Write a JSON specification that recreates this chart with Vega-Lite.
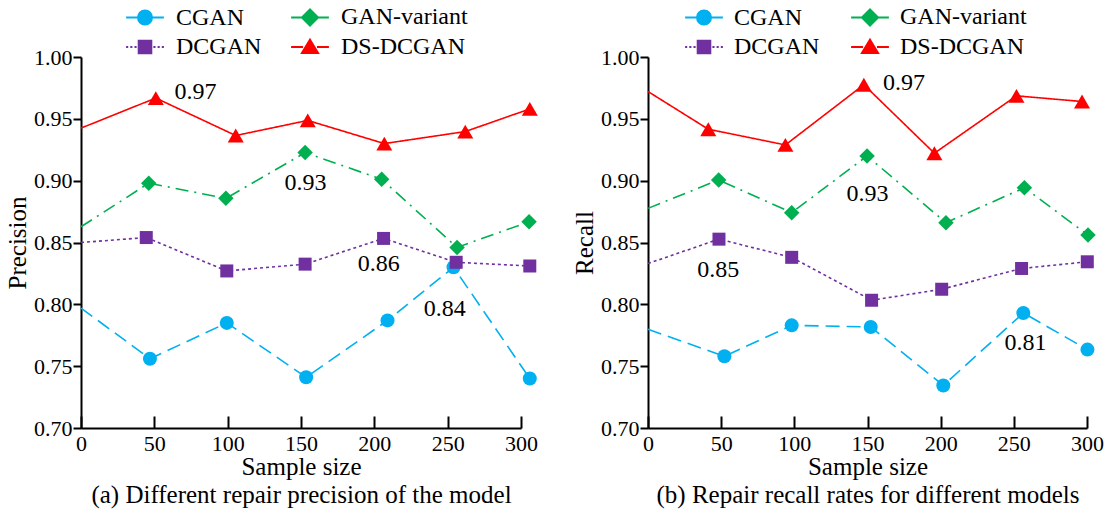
{
  "$schema": "https://vega.github.io/schema/vega-lite/v6.json",
  "padding": {"left": 5, "top": 5, "right": 5, "bottom": 5},
  "background": "white",
  "datasets": {
    "series": [
      {"panel": "a", "model": "CGAN", "x": 0, "y": 0.797},
      {"panel": "a", "model": "CGAN", "x": 47, "y": 0.756},
      {"panel": "a", "model": "CGAN", "x": 99.4, "y": 0.785},
      {"panel": "a", "model": "CGAN", "x": 153.5, "y": 0.741},
      {"panel": "a", "model": "CGAN", "x": 209, "y": 0.787},
      {"panel": "a", "model": "CGAN", "x": 254, "y": 0.830},
      {"panel": "a", "model": "CGAN", "x": 306, "y": 0.740},
      {"panel": "a", "model": "DCGAN", "x": 0, "y": 0.850},
      {"panel": "a", "model": "DCGAN", "x": 44.5, "y": 0.854},
      {"panel": "a", "model": "DCGAN", "x": 99.4, "y": 0.827},
      {"panel": "a", "model": "DCGAN", "x": 152.8, "y": 0.8325},
      {"panel": "a", "model": "DCGAN", "x": 206.3, "y": 0.8533},
      {"panel": "a", "model": "DCGAN", "x": 255.8, "y": 0.834},
      {"panel": "a", "model": "DCGAN", "x": 306, "y": 0.831},
      {"panel": "a", "model": "GAN-variant", "x": 0, "y": 0.8627},
      {"panel": "a", "model": "GAN-variant", "x": 46.2, "y": 0.898},
      {"panel": "a", "model": "GAN-variant", "x": 98.8, "y": 0.8857},
      {"panel": "a", "model": "GAN-variant", "x": 152.8, "y": 0.9227},
      {"panel": "a", "model": "GAN-variant", "x": 205, "y": 0.9011},
      {"panel": "a", "model": "GAN-variant", "x": 256.4, "y": 0.846},
      {"panel": "a", "model": "GAN-variant", "x": 305.5, "y": 0.8668},
      {"panel": "a", "model": "DS-DCGAN", "x": 0, "y": 0.9425},
      {"panel": "a", "model": "DS-DCGAN", "x": 51, "y": 0.9668},
      {"panel": "a", "model": "DS-DCGAN", "x": 105.5, "y": 0.9365},
      {"panel": "a", "model": "DS-DCGAN", "x": 154.6, "y": 0.9487},
      {"panel": "a", "model": "DS-DCGAN", "x": 206.8, "y": 0.930},
      {"panel": "a", "model": "DS-DCGAN", "x": 262, "y": 0.9397},
      {"panel": "a", "model": "DS-DCGAN", "x": 306, "y": 0.958},
      {"panel": "b", "model": "CGAN", "x": 0, "y": 0.7798},
      {"panel": "b", "model": "CGAN", "x": 52.2, "y": 0.758},
      {"panel": "b", "model": "CGAN", "x": 98.2, "y": 0.783},
      {"panel": "b", "model": "CGAN", "x": 152.2, "y": 0.7817},
      {"panel": "b", "model": "CGAN", "x": 201.8, "y": 0.7344},
      {"panel": "b", "model": "CGAN", "x": 256.5, "y": 0.793},
      {"panel": "b", "model": "CGAN", "x": 300.3, "y": 0.7634},
      {"panel": "b", "model": "DCGAN", "x": 0, "y": 0.833},
      {"panel": "b", "model": "DCGAN", "x": 48.5, "y": 0.8527},
      {"panel": "b", "model": "DCGAN", "x": 98.2, "y": 0.838},
      {"panel": "b", "model": "DCGAN", "x": 152.8, "y": 0.8033},
      {"panel": "b", "model": "DCGAN", "x": 200.7, "y": 0.8122},
      {"panel": "b", "model": "DCGAN", "x": 255.3, "y": 0.829},
      {"panel": "b", "model": "DCGAN", "x": 300.2, "y": 0.8344},
      {"panel": "b", "model": "GAN-variant", "x": 0, "y": 0.8776},
      {"panel": "b", "model": "GAN-variant", "x": 48.3, "y": 0.9006},
      {"panel": "b", "model": "GAN-variant", "x": 98.2, "y": 0.8741},
      {"panel": "b", "model": "GAN-variant", "x": 149.7, "y": 0.920},
      {"panel": "b", "model": "GAN-variant", "x": 203.6, "y": 0.866},
      {"panel": "b", "model": "GAN-variant", "x": 257.2, "y": 0.8943},
      {"panel": "b", "model": "GAN-variant", "x": 300.7, "y": 0.856},
      {"panel": "b", "model": "DS-DCGAN", "x": 0, "y": 0.9721},
      {"panel": "b", "model": "DS-DCGAN", "x": 41.2, "y": 0.9416},
      {"panel": "b", "model": "DS-DCGAN", "x": 93.9, "y": 0.9289},
      {"panel": "b", "model": "DS-DCGAN", "x": 147.5, "y": 0.9776},
      {"panel": "b", "model": "DS-DCGAN", "x": 195.7, "y": 0.9222},
      {"panel": "b", "model": "DS-DCGAN", "x": 251.8, "y": 0.9686},
      {"panel": "b", "model": "DS-DCGAN", "x": 296.6, "y": 0.964}
    ],
    "labels": [
      {"panel": "a", "x": 78, "y": 0.972, "text": "0.97"},
      {"panel": "a", "x": 153, "y": 0.898, "text": "0.93"},
      {"panel": "a", "x": 203, "y": 0.833, "text": "0.86"},
      {"panel": "a", "x": 248, "y": 0.796, "text": "0.84"},
      {"panel": "b", "x": 175, "y": 0.979, "text": "0.97"},
      {"panel": "b", "x": 150, "y": 0.889, "text": "0.93"},
      {"panel": "b", "x": 48, "y": 0.828, "text": "0.85"},
      {"panel": "b", "x": 258, "y": 0.769, "text": "0.81"}
    ]
  },
  "hconcat": [
    {
      "width": 440,
      "height": 371,
      "layer": [
        {
          "data": {"name": "series"},
          "transform": [{"filter": "datum.panel === 'a'"}],
          "mark": {"type": "line", "strokeWidth": 1.6},
          "encoding": {
            "x": {"field": "x", "type": "quantitative", "scale": {"domain": [0, 300], "nice": false},
              "axis": {"values": [0, 50, 100, 150, 200, 250, 300], "title": ["Sample size", "(a) Different repair precision of the model"]}},
            "y": {"field": "y", "type": "quantitative", "scale": {"domain": [0.7, 1.0], "nice": false, "zero": false},
              "axis": {"values": [0.7, 0.75, 0.8, 0.85, 0.9, 0.95, 1.0], "format": ".2f", "title": "Precision"}},
            "color": {"field": "model", "type": "nominal",
              "scale": {"domain": ["CGAN", "GAN-variant", "DCGAN", "DS-DCGAN"], "range": ["#00b0f0", "#00b050", "#7030a0", "#ff0000"]},
              "legend": null},
            "strokeDash": {"field": "model", "type": "nominal",
              "scale": {"domain": ["CGAN", "GAN-variant", "DCGAN", "DS-DCGAN"], "range": [[14, 7], [13, 6, 2, 6], [3, 3], [1, 0]]},
              "legend": null}
          }
        },
        {
          "data": {"name": "series"},
          "transform": [{"filter": "datum.panel === 'a' && datum.model === 'CGAN' && datum.x > 0"}],
          "mark": {"type": "point", "filled": true, "opacity": 1, "shape": "circle", "size": 196, "color": "#00b0f0"},
          "encoding": {"x": {"field": "x", "type": "quantitative"}, "y": {"field": "y", "type": "quantitative"}}
        },
        {
          "data": {"name": "series"},
          "transform": [{"filter": "datum.panel === 'a' && datum.model === 'GAN-variant' && datum.x > 0"}],
          "mark": {"type": "point", "filled": true, "opacity": 1, "shape": "diamond", "size": 240, "color": "#00b050"},
          "encoding": {"x": {"field": "x", "type": "quantitative"}, "y": {"field": "y", "type": "quantitative"}}
        },
        {
          "data": {"name": "series"},
          "transform": [{"filter": "datum.panel === 'a' && datum.model === 'DCGAN' && datum.x > 0"}],
          "mark": {"type": "point", "filled": true, "opacity": 1, "shape": "square", "size": 169, "color": "#7030a0"},
          "encoding": {"x": {"field": "x", "type": "quantitative"}, "y": {"field": "y", "type": "quantitative"}}
        },
        {
          "data": {"name": "series"},
          "transform": [{"filter": "datum.panel === 'a' && datum.model === 'DS-DCGAN' && datum.x > 0"}],
          "mark": {"type": "point", "filled": true, "opacity": 1, "shape": "triangle-up", "size": 256, "color": "#ff0000"},
          "encoding": {"x": {"field": "x", "type": "quantitative"}, "y": {"field": "y", "type": "quantitative"}}
        },
        {
          "data": {"name": "series"},
          "transform": [{"filter": "false"}],
          "mark": {"type": "point", "filled": true, "opacity": 1, "strokeWidth": 2},
          "encoding": {
            "x": {"field": "x", "type": "quantitative"},
            "y": {"field": "y", "type": "quantitative"},
            "fill": {"field": "model", "type": "nominal", "title": null,
              "scale": {"domain": ["CGAN", "DCGAN", "GAN-variant", "DS-DCGAN"], "range": ["#00b0f0", "#7030a0", "#00b050", "#ff0000"]},
              "legend": {"orient": "none", "legendX": 41, "legendY": -52, "columns": 2, "title": null,
                "labelFontSize": 24, "labelFont": "Liberation Serif", "labelColor": "black", "symbolSize": 196, "symbolStrokeWidth": 2,
                "symbolOffset": 11, "labelOffset": 19, "columnPadding": 25, "rowPadding": 5, "padding": 0}},
            "stroke": {"field": "model", "type": "nominal", "title": null,
              "scale": {"domain": ["CGAN", "DCGAN", "GAN-variant", "DS-DCGAN"], "range": ["#00b0f0", "#7030a0", "#00b050", "#ff0000"]},
              "legend": {"orient": "none", "legendX": 41, "legendY": -52, "columns": 2, "title": null,
                "labelFontSize": 24, "labelFont": "Liberation Serif", "labelColor": "black", "symbolSize": 196, "symbolStrokeWidth": 2,
                "symbolOffset": 11, "labelOffset": 19, "columnPadding": 25, "rowPadding": 5, "padding": 0}},
            "shape": {"field": "model", "type": "nominal", "title": null,
              "scale": {"domain": ["CGAN", "DCGAN", "GAN-variant", "DS-DCGAN"], "range": [
                "M-2.7,0H-1M1,0H2.7M1,0A1,1,0,1,1,-1,0A1,1,0,1,1,1,0Z",
                "M-2.7,0H-2.4M-2.1,0H-1.8M-1.5,0H-1.2M1.2,0H1.5M1.8,0H2.1M2.4,0H2.7M-0.9,-0.9H0.9V0.9H-0.9Z",
                "M-2.7,0H-1.2M1.2,0H2.7M0,-1.15L1.15,0L0,1.15L-1.15,0Z",
                "M-2.7,0H-1M1,0H2.7M0,-1.05L1.15,0.85L-1.15,0.85Z"]},
              "legend": {"orient": "none", "legendX": 41, "legendY": -52, "columns": 2, "title": null,
                "labelFontSize": 24, "labelFont": "Liberation Serif", "labelColor": "black", "symbolSize": 196, "symbolStrokeWidth": 2,
                "symbolOffset": 11, "labelOffset": 19, "columnPadding": 25, "rowPadding": 5, "padding": 0}}
          }
        },
        {
          "data": {"name": "labels"},
          "transform": [{"filter": "datum.panel === 'a'"}],
          "mark": {"type": "text", "fontSize": 24, "font": "Liberation Serif", "color": "black", "align": "center", "baseline": "middle"},
          "encoding": {
            "x": {"field": "x", "type": "quantitative"},
            "y": {"field": "y", "type": "quantitative"},
            "text": {"field": "text"}
          }
        }
      ]
    },
    {
      "width": 439,
      "height": 371,
      "layer": [
        {
          "data": {"name": "series"},
          "transform": [{"filter": "datum.panel === 'b'"}],
          "mark": {"type": "line", "strokeWidth": 1.6},
          "encoding": {
            "x": {"field": "x", "type": "quantitative", "scale": {"domain": [0, 300], "nice": false},
              "axis": {"values": [0, 50, 100, 150, 200, 250, 300], "title": ["Sample size", "(b) Repair recall rates for different models"]}},
            "y": {"field": "y", "type": "quantitative", "scale": {"domain": [0.7, 1.0], "nice": false, "zero": false},
              "axis": {"values": [0.7, 0.75, 0.8, 0.85, 0.9, 0.95, 1.0], "format": ".2f", "title": "Recall"}},
            "color": {"field": "model", "type": "nominal",
              "scale": {"domain": ["CGAN", "GAN-variant", "DCGAN", "DS-DCGAN"], "range": ["#00b0f0", "#00b050", "#7030a0", "#ff0000"]},
              "legend": null},
            "strokeDash": {"field": "model", "type": "nominal",
              "scale": {"domain": ["CGAN", "GAN-variant", "DCGAN", "DS-DCGAN"], "range": [[14, 7], [13, 6, 2, 6], [3, 3], [1, 0]]},
              "legend": null}
          }
        },
        {
          "data": {"name": "series"},
          "transform": [{"filter": "datum.panel === 'b' && datum.model === 'CGAN' && datum.x > 0"}],
          "mark": {"type": "point", "filled": true, "opacity": 1, "shape": "circle", "size": 196, "color": "#00b0f0"},
          "encoding": {"x": {"field": "x", "type": "quantitative"}, "y": {"field": "y", "type": "quantitative"}}
        },
        {
          "data": {"name": "series"},
          "transform": [{"filter": "datum.panel === 'b' && datum.model === 'GAN-variant' && datum.x > 0"}],
          "mark": {"type": "point", "filled": true, "opacity": 1, "shape": "diamond", "size": 240, "color": "#00b050"},
          "encoding": {"x": {"field": "x", "type": "quantitative"}, "y": {"field": "y", "type": "quantitative"}}
        },
        {
          "data": {"name": "series"},
          "transform": [{"filter": "datum.panel === 'b' && datum.model === 'DCGAN' && datum.x > 0"}],
          "mark": {"type": "point", "filled": true, "opacity": 1, "shape": "square", "size": 169, "color": "#7030a0"},
          "encoding": {"x": {"field": "x", "type": "quantitative"}, "y": {"field": "y", "type": "quantitative"}}
        },
        {
          "data": {"name": "series"},
          "transform": [{"filter": "datum.panel === 'b' && datum.model === 'DS-DCGAN' && datum.x > 0"}],
          "mark": {"type": "point", "filled": true, "opacity": 1, "shape": "triangle-up", "size": 256, "color": "#ff0000"},
          "encoding": {"x": {"field": "x", "type": "quantitative"}, "y": {"field": "y", "type": "quantitative"}}
        },
        {
          "data": {"name": "series"},
          "transform": [{"filter": "false"}],
          "mark": {"type": "point", "filled": true, "opacity": 1, "strokeWidth": 2},
          "encoding": {
            "x": {"field": "x", "type": "quantitative"},
            "y": {"field": "y", "type": "quantitative"},
            "fill": {"field": "model", "type": "nominal", "title": null,
              "scale": {"domain": ["CGAN", "DCGAN", "GAN-variant", "DS-DCGAN"], "range": ["#00b0f0", "#7030a0", "#00b050", "#ff0000"]},
              "legend": {"orient": "none", "legendX": 33, "legendY": -52, "columns": 2, "title": null,
                "labelFontSize": 24, "labelFont": "Liberation Serif", "labelColor": "black", "symbolSize": 196, "symbolStrokeWidth": 2,
                "symbolOffset": 11, "labelOffset": 18, "columnPadding": 27, "rowPadding": 5, "padding": 0}},
            "stroke": {"field": "model", "type": "nominal", "title": null,
              "scale": {"domain": ["CGAN", "DCGAN", "GAN-variant", "DS-DCGAN"], "range": ["#00b0f0", "#7030a0", "#00b050", "#ff0000"]},
              "legend": {"orient": "none", "legendX": 33, "legendY": -52, "columns": 2, "title": null,
                "labelFontSize": 24, "labelFont": "Liberation Serif", "labelColor": "black", "symbolSize": 196, "symbolStrokeWidth": 2,
                "symbolOffset": 11, "labelOffset": 18, "columnPadding": 27, "rowPadding": 5, "padding": 0}},
            "shape": {"field": "model", "type": "nominal", "title": null,
              "scale": {"domain": ["CGAN", "DCGAN", "GAN-variant", "DS-DCGAN"], "range": [
                "M-2.7,0H-1M1,0H2.7M1,0A1,1,0,1,1,-1,0A1,1,0,1,1,1,0Z",
                "M-2.7,0H-2.4M-2.1,0H-1.8M-1.5,0H-1.2M1.2,0H1.5M1.8,0H2.1M2.4,0H2.7M-0.9,-0.9H0.9V0.9H-0.9Z",
                "M-2.7,0H-1.2M1.2,0H2.7M0,-1.15L1.15,0L0,1.15L-1.15,0Z",
                "M-2.7,0H-1M1,0H2.7M0,-1.05L1.15,0.85L-1.15,0.85Z"]},
              "legend": {"orient": "none", "legendX": 33, "legendY": -52, "columns": 2, "title": null,
                "labelFontSize": 24, "labelFont": "Liberation Serif", "labelColor": "black", "symbolSize": 196, "symbolStrokeWidth": 2,
                "symbolOffset": 11, "labelOffset": 18, "columnPadding": 27, "rowPadding": 5, "padding": 0}}
          }
        },
        {
          "data": {"name": "labels"},
          "transform": [{"filter": "datum.panel === 'b'"}],
          "mark": {"type": "text", "fontSize": 24, "font": "Liberation Serif", "color": "black", "align": "center", "baseline": "middle"},
          "encoding": {
            "x": {"field": "x", "type": "quantitative"},
            "y": {"field": "y", "type": "quantitative"},
            "text": {"field": "text"}
          }
        }
      ]
    }
  ],
  "spacing": 34,
  "resolve": {"scale": {"color": "independent", "strokeDash": "independent", "fill": "independent", "stroke": "independent", "shape": "independent"}},
  "config": {
    "font": "Liberation Serif",
    "view": {"stroke": null},
    "axis": {
      "domainColor": "black", "domainWidth": 2,
      "tickColor": "black", "tickWidth": 2,
      "labelColor": "black", "labelFontSize": 22, "labelFont": "Liberation Serif",
      "titleColor": "black", "titleFontSize": 25, "titleFontWeight": "normal", "titleFont": "Liberation Serif"
    },
    "axisY": {"grid": false, "tickSize": 8, "labelPadding": 1, "titlePadding": 3},
    "axisX": {"grid": true, "gridColor": "black", "gridWidth": 2, "gridOpacity": 1, "gridDash": [0, 359, 12, 0], "ticks": false,
      "labelPadding": 5, "labelFlush": false, "titlePadding": 0, "titleLineHeight": 28},
    "legend": {"labelFont": "Liberation Serif"}
  }
}
